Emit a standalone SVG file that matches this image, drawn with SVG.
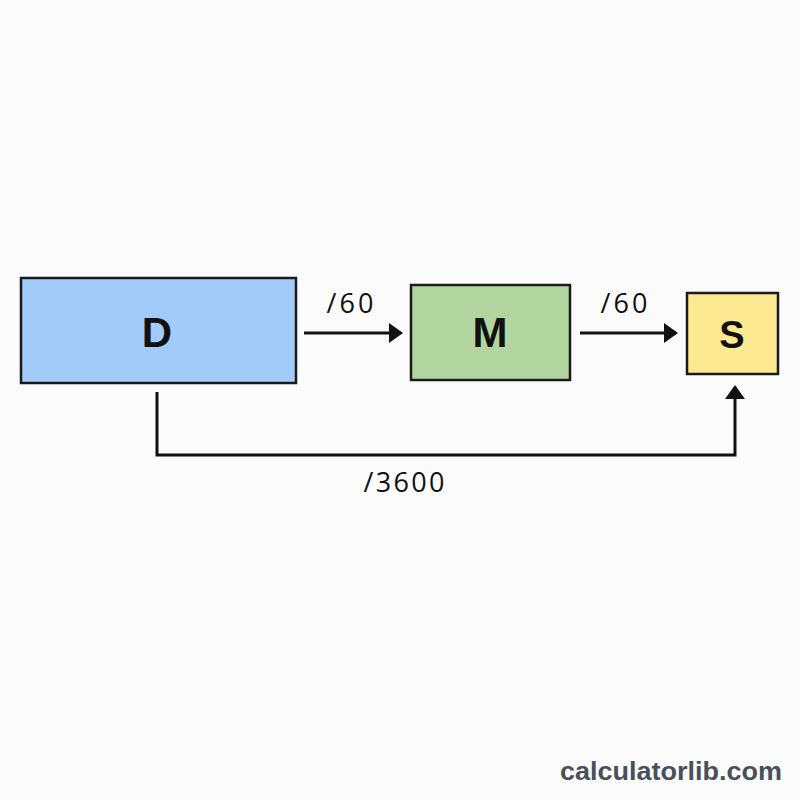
<svg xmlns="http://www.w3.org/2000/svg" width="800" height="800" viewBox="0 0 800 800">
<style>
.box{stroke:#1a1a1a;stroke-width:2.5}
.lbl{font-family:"Liberation Sans",Arial,sans-serif;font-weight:bold;font-size:42px;fill:#111;text-anchor:middle}
.edge{font-family:"Open Sans","Liberation Sans",Arial,sans-serif;font-size:27px;font-weight:500;fill:#111;text-anchor:middle}
.conn{fill:none;stroke:#111;stroke-width:3}
</style>
<defs>
<marker id="ah" markerWidth="14" markerHeight="20" refX="12" refY="10" orient="auto" markerUnits="userSpaceOnUse">
<path d="M0,0 L14,10 L0,20 Z" fill="#111"/>
</marker>
</defs>
<rect width="800" height="800" fill="#fbfbfb"/>
<g id="D">
<rect class="box" x="21" y="278" width="275" height="105" fill="#a3cbf9"/>
<text class="lbl" x="157" y="347">D</text>
</g>
<g id="M">
<rect class="box" x="411" y="285" width="159" height="95" fill="#b3d6a0"/>
<text class="lbl" x="490" y="347">M</text>
</g>
<g id="S">
<rect class="box" x="687" y="293" width="91" height="81" fill="#fde991"/>
<text class="lbl" x="732" y="348" style="font-size:38px;font-weight:600">S</text>
</g>
<g id="connectors">
<path class="conn" d="M304,333 H401" marker-end="url(#ah)"/>
<path class="conn" d="M580,333 H676" marker-end="url(#ah)"/>
<path class="conn" d="M157,392 V455 H735 V387" marker-end="url(#ah)"/>
<text class="edge" x="350" y="313" textLength="47" lengthAdjust="spacing">/60</text>
<text class="edge" x="624" y="313" textLength="47" lengthAdjust="spacing">/60</text>
<text class="edge" x="404" y="492" textLength="81" lengthAdjust="spacing">/3600</text>
</g>
<text x="671" y="780" font-family="'Liberation Sans',Arial,sans-serif" font-weight="bold" font-size="25" fill="#4a4f5a" text-anchor="middle" textLength="222" lengthAdjust="spacingAndGlyphs">calculatorlib.com</text>
</svg>
